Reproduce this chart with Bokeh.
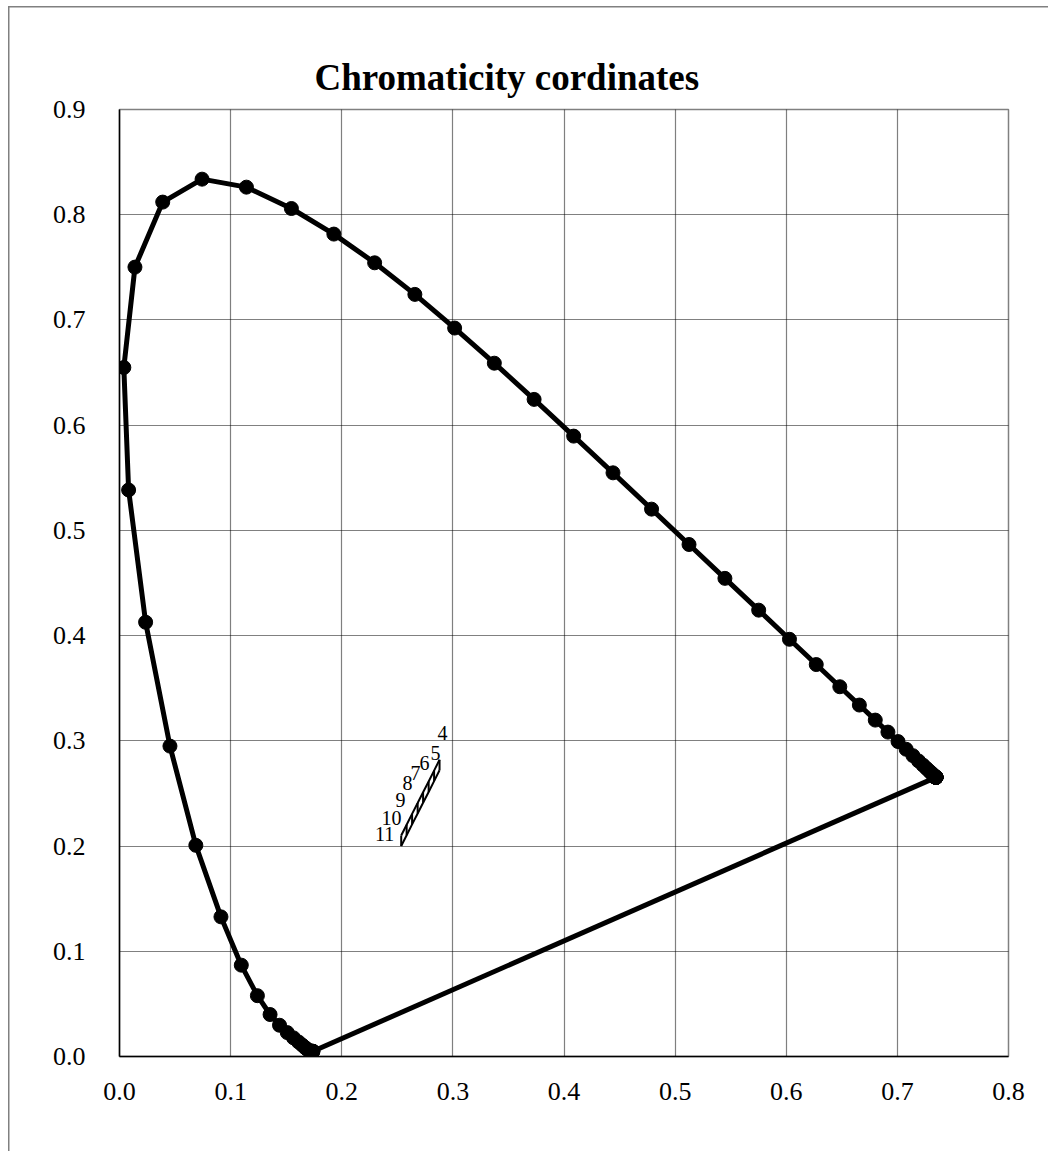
from bokeh.plotting import figure
from bokeh.models import FixedTicker, PrintfTickFormatter, Range1d, ColumnDataSource
from bokeh.core.properties import value
from bokeh.embed import file_html
from bokeh.resources import INLINE

# CIE 1931 spectral locus, 380..780 nm every 5 nm
locus_x = [0.1741, 0.1740, 0.1738, 0.1736, 0.1733, 0.1730, 0.1726, 0.1721, 0.1714, 0.1703,
           0.1689, 0.1669, 0.1644, 0.1611, 0.1566, 0.1510, 0.1440, 0.1355, 0.1241, 0.1096,
           0.0913, 0.0687, 0.0454, 0.0235, 0.0082, 0.0039, 0.0139, 0.0389, 0.0743, 0.1142,
           0.1547, 0.1929, 0.2296, 0.2658, 0.3016, 0.3373, 0.3731, 0.4087, 0.4441, 0.4788,
           0.5125, 0.5448, 0.5752, 0.6029, 0.6270, 0.6482, 0.6658, 0.6801, 0.6915, 0.7006,
           0.7079, 0.7140, 0.7190, 0.7230, 0.7260, 0.7283, 0.7300, 0.7311, 0.7320, 0.7327,
           0.7334, 0.7340, 0.7344, 0.7346, 0.7347, 0.7347, 0.7347, 0.7347, 0.7347, 0.7347,
           0.7347, 0.7347, 0.7347, 0.7347, 0.7347, 0.7347, 0.7347, 0.7347, 0.7347, 0.7347,
           0.7347]
locus_y = [0.0050, 0.0050, 0.0049, 0.0049, 0.0048, 0.0048, 0.0048, 0.0048, 0.0051, 0.0058,
           0.0069, 0.0086, 0.0109, 0.0138, 0.0177, 0.0227, 0.0297, 0.0399, 0.0578, 0.0868,
           0.1327, 0.2007, 0.2950, 0.4127, 0.5384, 0.6548, 0.7502, 0.8120, 0.8338, 0.8262,
           0.8059, 0.7816, 0.7543, 0.7243, 0.6923, 0.6589, 0.6245, 0.5896, 0.5547, 0.5202,
           0.4866, 0.4544, 0.4242, 0.3965, 0.3725, 0.3514, 0.3340, 0.3197, 0.3083, 0.2993,
           0.2920, 0.2859, 0.2809, 0.2770, 0.2740, 0.2717, 0.2700, 0.2689, 0.2680, 0.2673,
           0.2666, 0.2660, 0.2656, 0.2654, 0.2653, 0.2653, 0.2653, 0.2653, 0.2653, 0.2653,
           0.2653, 0.2653, 0.2653, 0.2653, 0.2653, 0.2653, 0.2653, 0.2653, 0.2653, 0.2653,
           0.2653]

# purple line (closing the locus)
purple_x = [0.7347, 0.1741]
purple_y = [0.2653, 0.0050]

# measured points 4..11
sample_labels = ["11", "10", "9", "8", "7", "6", "5", "4"]
sample_x = [0.2535, 0.2584, 0.2633, 0.2683, 0.2732, 0.2782, 0.2831, 0.2880]
sample_y_low = [0.2000, 0.2103, 0.2206, 0.2309, 0.2411, 0.2514, 0.2617, 0.2720]
sample_y_high = [0.2100, 0.2203, 0.2306, 0.2409, 0.2511, 0.2614, 0.2717, 0.2820]
# where each data label sits (data units)
label_x = [0.2385, 0.2448, 0.2529, 0.2592, 0.2664, 0.2745, 0.2844, 0.2907]
label_y = [0.2119, 0.2262, 0.2433, 0.2604, 0.2699, 0.2794, 0.2889, 0.3070]

x_ticks = [0.0, 0.1, 0.2, 0.3, 0.4, 0.5, 0.6, 0.7, 0.8]
y_ticks = [0.0, 0.1, 0.2, 0.3, 0.4, 0.5, 0.6, 0.7, 0.8, 0.9]

FONT = "Liberation Serif"

p = figure(width=1048, height=1151, x_range=Range1d(0, 0.8), y_range=Range1d(0, 0.9),
           output_backend="svg", toolbar_location=None,
           min_border_left=119, min_border_right=40, min_border_top=109, min_border_bottom=95)
p.border_fill_color = None
p.styles = {"box-shadow": "inset 8px 6px 0 0 white, inset 9.5px 7.5px 0 0 #808080"}
p.outline_line_color = "#808080"
p.outline_line_width = 1.5

p.title.text = "Chromaticity cordinates"
p.title.text_font = FONT
p.title.text_font_style = "bold"
p.title.text_font_size = "37px"
p.title.text_color = "black"
p.title.align = "left"
p.title.offset = 195
p.title.standoff = 24

for ax, ticks in ((p.xaxis, x_ticks), (p.yaxis, y_ticks)):
    ax.ticker = FixedTicker(ticks=ticks)
    ax.formatter = PrintfTickFormatter(format="%.1f")
    ax.major_label_text_font = FONT
    ax.major_label_text_font_size = "26px"
    ax.major_label_text_color = "black"
    ax.major_tick_line_color = None
    ax.minor_tick_line_color = None
    ax.axis_line_color = "black"
    ax.axis_line_width = 1.5
p.xaxis.major_label_standoff = 20
p.yaxis.major_label_standoff = 28

for g, ticks in ((p.xgrid, x_ticks), (p.ygrid, y_ticks)):
    g.ticker = FixedTicker(ticks=ticks)
    g.grid_line_color = "black"
    g.grid_line_dash = "1 1"
    g.grid_line_width = 1.2
    g.grid_line_alpha = 1.0

p.line(purple_x, purple_y, line_color="black", line_width=5)
p.line(locus_x, locus_y, line_color="black", line_width=5)
p.scatter(locus_x, locus_y, size=14, marker="circle", fill_color="black", line_color="black")

p.line(sample_x, sample_y_low, line_color="black", line_width=2)
p.line(sample_x, sample_y_high, line_color="black", line_width=2)
p.segment(x0=sample_x, y0=sample_y_low, x1=sample_x, y1=sample_y_high,
          line_color="black", line_width=2)
src = ColumnDataSource(dict(x=label_x, y=label_y, t=sample_labels))
p.text(x="x", y="y", text="t", source=src, text_font=value(FONT), text_font_size="20px",
       text_align="center", text_baseline="middle", text_color="black")

open("out.html", "w").write(file_html(p, INLINE))
